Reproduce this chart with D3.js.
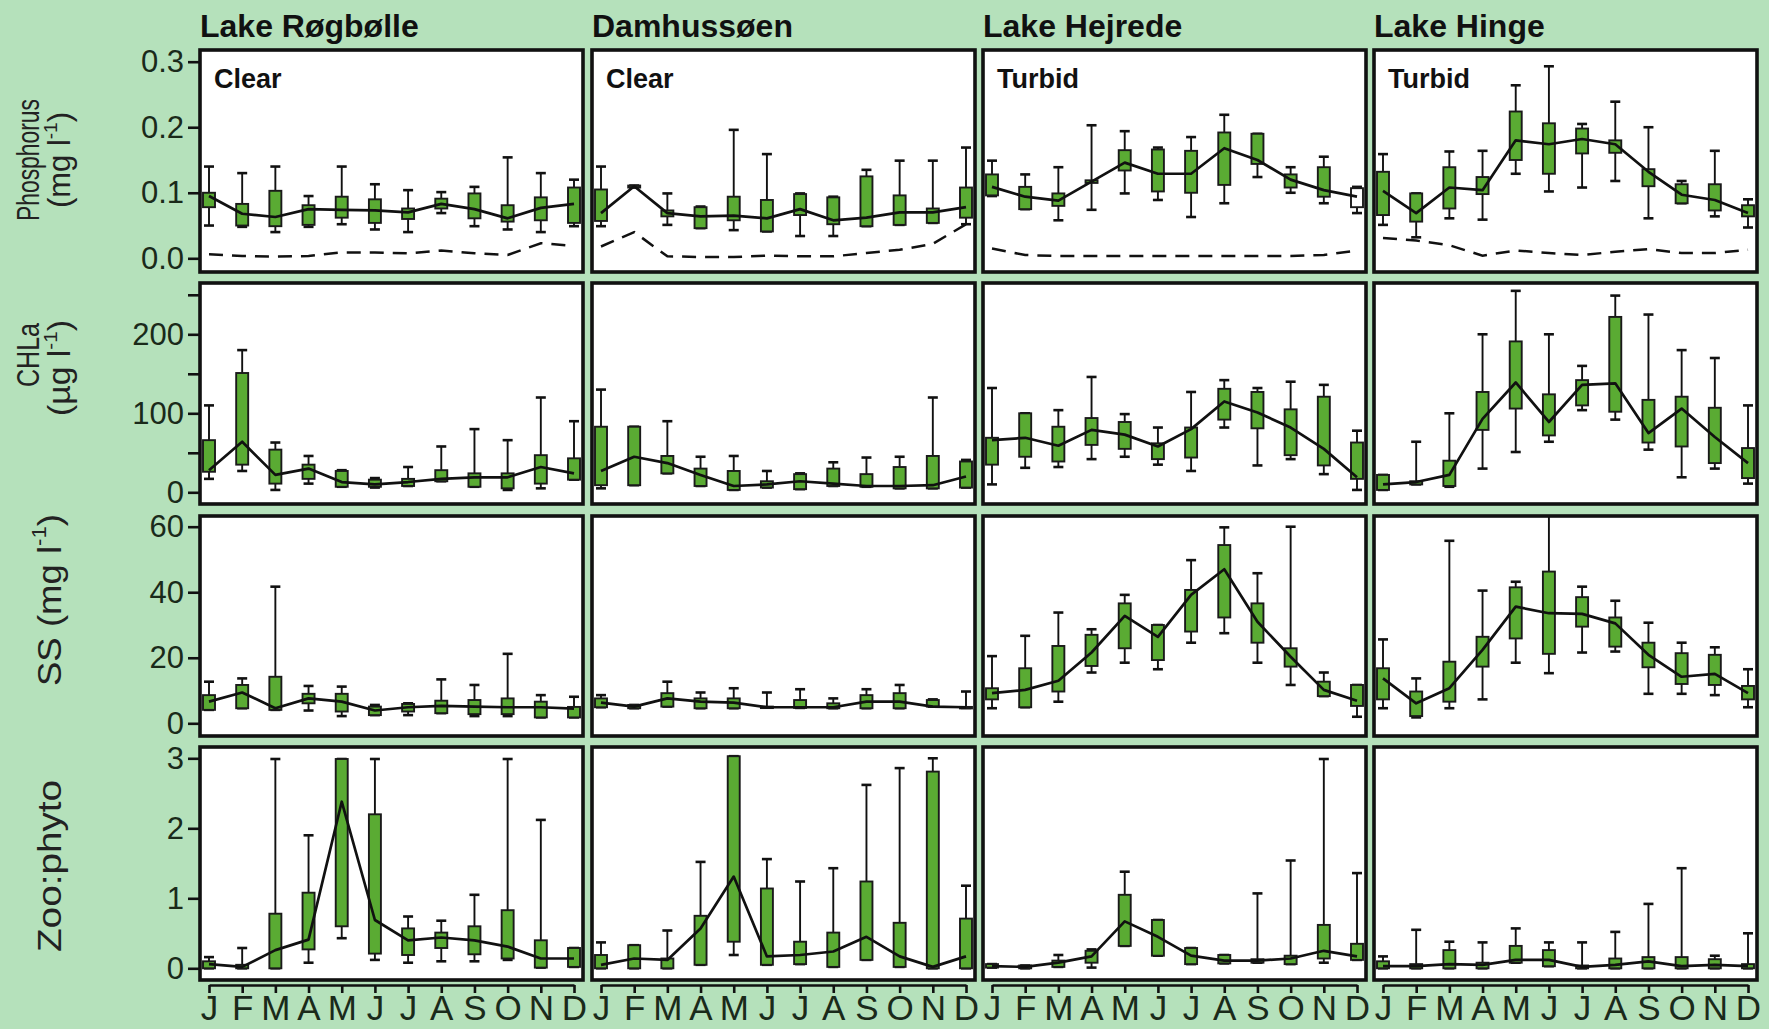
<!DOCTYPE html>
<html>
<head>
<meta charset="utf-8">
<script src="https://cdn.jsdelivr.net/npm/d3@7"></script>
<style>
  body { margin: 0; background: #b5e1bb; }
  svg { display: block; }
</style>
</head>
<body>
<svg id="chart"></svg>
<script>
// ---- data ----
const months = ["J", "F", "M", "A", "M", "J", "J", "A", "S", "O", "N", "D"];
const lakes = ["Lake Røgbølle", "Damhussøen", "Lake Hejrede", "Lake Hinge"];
const lakeState = ["Clear", "Clear", "Turbid", "Turbid"];

// each month: [low whisker, q1, median, q3, high whisker]
const phosRogbolle = [
  [0.05, 0.078, 0.095, 0.10, 0.14], [0.048, 0.05, 0.068, 0.083, 0.13], [0.04, 0.049, 0.063, 0.103, 0.14],
  [0.048, 0.051, 0.075, 0.081, 0.095], [0.052, 0.062, 0.074, 0.094, 0.14], [0.044, 0.054, 0.073, 0.09, 0.113],
  [0.04, 0.06, 0.07, 0.076, 0.104], [0.069, 0.076, 0.083, 0.091, 0.101], [0.049, 0.061, 0.075, 0.099, 0.109],
  [0.044, 0.056, 0.061, 0.081, 0.154], [0.04, 0.058, 0.077, 0.093, 0.13], [0.049, 0.054, 0.083, 0.108, 0.12]
];
const phosDamhus = [
  [0.049, 0.057, 0.069, 0.105, 0.14], [0.108, 0.108, 0.11, 0.111, 0.111], [0.051, 0.064, 0.069, 0.073, 0.099],
  [0.046, 0.046, 0.064, 0.078, 0.079], [0.043, 0.058, 0.065, 0.094, 0.196], [0.041, 0.041, 0.061, 0.089, 0.159],
  [0.034, 0.066, 0.075, 0.098, 0.099], [0.034, 0.052, 0.058, 0.093, 0.094], [0.049, 0.049, 0.062, 0.125, 0.135],
  [0.051, 0.051, 0.07, 0.096, 0.149], [0.054, 0.054, 0.07, 0.076, 0.149], [0.052, 0.062, 0.078, 0.108, 0.169]
];
const phosHejrede = [
  [0.095, 0.096, 0.109, 0.128, 0.149], [0.075, 0.075, 0.094, 0.109, 0.128], [0.058, 0.08, 0.088, 0.099, 0.139],
  [0.074, 0.115, 0.117, 0.119, 0.203], [0.099, 0.134, 0.146, 0.165, 0.194], [0.089, 0.102, 0.129, 0.166, 0.169],
  [0.063, 0.10, 0.129, 0.164, 0.185], [0.084, 0.112, 0.168, 0.192, 0.219], [0.124, 0.144, 0.15, 0.19, 0.19],
  [0.10, 0.108, 0.12, 0.128, 0.139], [0.084, 0.094, 0.104, 0.139, 0.155], [0.069, 0.078, 0.094, 0.107, 0.109]
];
const phosHinge = [
  [0.051, 0.066, 0.103, 0.132, 0.159], [0.032, 0.056, 0.069, 0.099, 0.099], [0.061, 0.076, 0.108, 0.139, 0.163],
  [0.059, 0.098, 0.104, 0.124, 0.164], [0.129, 0.15, 0.18, 0.224, 0.264], [0.102, 0.129, 0.174, 0.206, 0.293],
  [0.108, 0.16, 0.182, 0.198, 0.205], [0.118, 0.161, 0.174, 0.18, 0.239], [0.061, 0.11, 0.132, 0.136, 0.2],
  [0.084, 0.084, 0.097, 0.113, 0.118], [0.064, 0.073, 0.089, 0.113, 0.164], [0.047, 0.064, 0.069, 0.081, 0.09]
];

// dashed phosphorus reference lines
const phosLineRogbolle = [0.006, 0.0035, 0.0025, 0.0035, 0.009, 0.009, 0.0076, 0.012, 0.0076, 0.005, 0.023, 0.019];
const phosLineDamhus = [0.018, 0.04, 0.003, 0.002, 0.002, 0.004, 0.003, 0.003, 0.008, 0.013, 0.022, 0.052];
const phosLineHejrede = [0.015, 0.005, 0.0035, 0.0035, 0.0035, 0.0035, 0.0035, 0.0035, 0.0035, 0.0035, 0.005, 0.012];
const phosLineHinge = [0.031, 0.027, 0.02, 0.004, 0.012, 0.008, 0.005, 0.01, 0.014, 0.008, 0.008, 0.013];

const chlaRogbolle = [
  [17, 26, 28, 66, 110], [27, 35, 64, 151, 180], [3, 11, 22, 54, 63], [11, 17, 30, 35, 46],
  [7, 7, 13, 27, 28], [6, 7, 10, 16, 18], [8, 8, 13, 17, 32], [14, 14, 17, 28, 58],
  [7, 7, 19, 24, 80], [3, 5, 19, 24, 66], [5, 11, 32, 47, 120], [16, 16, 24, 43, 90]
];
const chlaDamhus = [
  [5, 9, 27, 83, 130], [9, 9, 45, 83, 83], [24, 24, 37, 46, 90], [8, 8, 22, 30, 45],
  [3, 3, 8, 27, 46], [6, 6, 10, 14, 27], [4, 4, 14, 23, 24], [8, 8, 11, 30, 38],
  [7, 7, 8, 23, 44], [5, 5, 8, 32, 45], [5, 5, 9, 46, 120], [6, 6, 20, 39, 41]
];
const chlaHejrede = [
  [10, 35, 66, 69, 132], [31, 45, 69, 100, 100], [32, 39, 59, 83, 104], [42, 60, 79, 94, 146],
  [45, 55, 73, 89, 99], [35, 42, 58, 62, 82], [27, 44, 80, 82, 127], [82, 92, 115, 131, 142],
  [34, 81, 101, 127, 132], [42, 47, 82, 105, 140], [23, 34, 55, 121, 136], [3, 17, 19, 63, 78]
];
const chlaHinge = [
  [3, 3, 10, 22, 22], [10, 10, 13, 14, 64], [7, 8, 22, 40, 100], [30, 79, 93, 127, 200],
  [51, 106, 139, 191, 255], [64, 72, 89, 124, 200], [104, 110, 136, 142, 160], [92, 102, 138, 222, 249],
  [54, 63, 75, 117, 225], [19, 58, 106, 121, 180], [30, 37, 70, 107, 170], [11, 18, 37, 56, 110]
];

const ssRogbolle = [
  [4.1, 4.1, 6.6, 8.6, 12.7], [4.6, 4.6, 9.4, 11.7, 13.7], [4.1, 4.1, 4.6, 14.2, 41.7], [3.9, 6.1, 7.6, 9.0, 11.4],
  [2.2, 3.6, 6.6, 9.0, 11.2], [2.5, 2.5, 3.9, 5.1, 5.6], [2.5, 3.6, 4.9, 5.9, 6.1], [3.1, 3.1, 5.3, 6.9, 13.4],
  [2.2, 2.8, 5.1, 7.1, 11.7], [2.2, 2.8, 4.9, 7.6, 21.2], [1.8, 1.8, 4.9, 6.6, 8.6], [1.8, 1.8, 4.5, 5.0, 8.1]
];
const ssDamhus = [
  [4.9, 4.9, 6.3, 7.6, 8.6], [4.6, 4.6, 5.1, 5.6, 5.6], [5.1, 5.1, 7.6, 9.2, 12.7], [4.6, 4.6, 6.6, 7.6, 9.4],
  [4.6, 4.6, 6.3, 7.6, 10.7], [4.8, 4.8, 4.9, 5.1, 9.4], [4.7, 4.7, 4.9, 7.1, 10.4], [4.6, 4.6, 4.9, 6.1, 7.6],
  [4.6, 4.6, 6.6, 8.6, 10.4], [4.6, 4.6, 6.6, 9.2, 11.7], [5.1, 5.1, 5.1, 7.1, 7.3], [4.7, 4.7, 4.9, 5.0, 9.7]
];
const ssHejrede = [
  [4.6, 7.3, 9.2, 10.7, 20.5], [4.9, 4.9, 10.2, 16.8, 26.7], [6.6, 9.7, 13.0, 23.6, 33.8], [15.5, 17.5, 21.6, 27.0, 28.7],
  [18.5, 22.9, 32.8, 36.6, 39.2], [16.5, 19.3, 26.4, 30.0, 30.0], [24.6, 28.0, 39.2, 40.7, 49.8], [27.5, 32.3, 47.0, 54.4, 59.8],
  [18.5, 24.6, 31.0, 36.6, 45.8], [11.7, 17.3, 20.3, 22.9, 60.0], [8.3, 8.3, 10.2, 12.7, 15.5], [2.0, 5.3, 6.9, 11.7, 11.7]
];
const ssHinge = [
  [4.6, 7.3, 13.7, 16.8, 25.6], [1.8, 2.2, 6.1, 9.7, 13.7], [4.6, 6.6, 10.7, 18.8, 55.7], [7.3, 17.3, 22.4, 26.4, 40.5],
  [18.5, 25.9, 35.6, 41.5, 43.2], [15.3, 21.2, 33.6, 46.3, 64], [21.6, 29.5, 33.4, 38.5, 41.7], [21.9, 23.4, 30.5, 32.3, 37.4],
  [9.0, 17.1, 20.9, 24.6, 30.7], [9.0, 12.0, 14.2, 21.4, 24.6], [8.6, 11.7, 15.1, 20.9, 23.2], [4.9, 7.3, 9.2, 11.4, 16.5]
];

const zooRogbolle = [
  [0, 0, 0.06, 0.1, 0.16], [0, 0, 0.02, 0.05, 0.29], [0, 0, 0.26, 0.78, 2.99], [0.08, 0.27, 0.41, 1.08, 1.9],
  [0.43, 0.6, 2.38, 2.99, 2.99], [0.12, 0.21, 0.69, 2.2, 2.99], [0.08, 0.19, 0.4, 0.57, 0.74], [0.1, 0.29, 0.44, 0.51, 0.68],
  [0.1, 0.2, 0.4, 0.6, 1.05], [0.12, 0.14, 0.31, 0.83, 2.99], [0.01, 0.01, 0.14, 0.4, 2.12], [0.02, 0.02, 0.14, 0.29, 0.29]
];
const zooDamhus = [
  [0, 0, 0.05, 0.19, 0.37], [0, 0, 0.14, 0.33, 0.33], [0, 0, 0.12, 0.14, 0.54], [0.05, 0.05, 0.57, 0.75, 1.52],
  [0.19, 0.38, 1.31, 3.03, 3.03], [0.05, 0.05, 0.17, 1.14, 1.56], [0.06, 0.06, 0.19, 0.38, 1.24], [0.02, 0.02, 0.24, 0.51, 1.43],
  [0.12, 0.12, 0.45, 1.24, 2.62], [0.02, 0.02, 0.17, 0.65, 2.86], [0, 0, 0.02, 2.81, 3.0], [0, 0, 0.17, 0.71, 1.18]
];
const zooHejrede = [
  [0.01, 0.01, 0.03, 0.06, 0.06], [0, 0, 0.02, 0.04, 0.04], [0.02, 0.02, 0.08, 0.11, 0.19], [0.01, 0.08, 0.17, 0.25, 0.27],
  [0.32, 0.32, 0.67, 1.05, 1.38], [0.18, 0.18, 0.45, 0.69, 0.69], [0.06, 0.06, 0.18, 0.29, 0.29], [0.07, 0.07, 0.11, 0.19, 0.19],
  [0.08, 0.08, 0.11, 0.13, 1.07], [0.06, 0.06, 0.14, 0.18, 1.54], [0.08, 0.14, 0.25, 0.62, 2.99], [0.12, 0.12, 0.17, 0.35, 1.36]
];
const zooHinge = [
  [0, 0, 0.03, 0.1, 0.17], [0, 0, 0.03, 0.06, 0.55], [0, 0, 0.06, 0.26, 0.38], [0, 0, 0.05, 0.08, 0.37],
  [0.08, 0.08, 0.12, 0.32, 0.57], [0.03, 0.03, 0.12, 0.26, 0.37], [0, 0, 0.02, 0.04, 0.37], [0, 0, 0.05, 0.14, 0.52],
  [0, 0, 0.1, 0.16, 0.92], [0, 0, 0.03, 0.16, 1.43], [0, 0, 0.05, 0.13, 0.18], [0, 0, 0.03, 0.06, 0.5]
];

// box drawn without fill (Lake Hejrede, phosphorus, December)
const unfilledBoxes = [{ row: 0, lake: 2, month: 11 }];

const phosTicks = [0, 0.1, 0.2, 0.3];
const chlaTicks = [0, 50, 100, 150, 200, 250];
const ssTicks = [0, 20, 40, 60];
const zooTicks = [0, 1, 2, 3];

// ---- layout ----
const W = 1769, H = 1029;
const bg = "#b5e1bb";
const boxGreen = "#5aab33";
const fontMain = "'Liberation Sans', Arial, sans-serif";
const fontNarrow = "'Liberation Sans Narrow', 'Arial Narrow', 'Liberation Sans', sans-serif";

const panelLeft = [200, 592, 983, 1374];
const panelW = 383;

// title lines: x centre, y centre, font size, squeezed length
const rows = [
  { data: [phosRogbolle, phosDamhus, phosHejrede, phosHinge], lines: [phosLineRogbolle, phosLineDamhus, phosLineHejrede, phosLineHinge],
    top: 50, bottom: 272, domain: [0, 0.3], range: [258.3, 61.7], ticks: phosTicks, fmt: d3.format(".1f"),
    title: [["Phosphorus"], ["(mg l", "-1", ")"]],
    titlePos: [{ x: 31, y: 160, size: 31, len: 122 }, { x: 62, y: 160, size: 31, len: 96 }] },
  { data: [chlaRogbolle, chlaDamhus, chlaHejrede, chlaHinge],
    top: 283, bottom: 504, domain: [0, 200], range: [492.3, 334.3], ticks: chlaTicks, fmt: d => d % 100 === 0 ? d : "",
    title: [["CHLa"], ["(µg l", "-1", ")"]],
    titlePos: [{ x: 31, y: 355, size: 31, len: 64 }, { x: 62, y: 368, size: 31, len: 96 }] },
  { data: [ssRogbolle, ssDamhus, ssHejrede, ssHinge],
    top: 516, bottom: 736, domain: [0, 60], range: [723.3, 526.7], ticks: ssTicks, fmt: d => d,
    title: [["SS (mg l", "-1", ")"]],
    titlePos: [{ x: 52, y: 600, size: 33, len: 172 }] },
  { data: [zooRogbolle, zooDamhus, zooHejrede, zooHinge],
    top: 747, bottom: 980, domain: [0, 3], range: [968.3, 758.3], ticks: zooTicks, fmt: d => d,
    title: [["Zoo:phyto"]],
    titlePos: [{ x: 52, y: 866, size: 33, len: 172 }] }
];

const svg = d3.select("#chart").attr("width", W).attr("height", H);
svg.append("rect").attr("width", W).attr("height", H).attr("fill", bg);
const defs = svg.append("defs");

// lake names
svg.selectAll(".lake")
  .data(lakes)
  .enter()
  .append("text")
  .attr("x", (d, i) => panelLeft[i])
  .attr("y", 37)
  .attr("font-family", fontMain)
  .attr("font-weight", "bold")
  .attr("font-size", 32)
  .attr("fill", "#111")
  .text(d => d);

const boxW = 12, capW = 10;

rows.forEach((row, r) => {
  const y = d3.scaleLinear().domain(row.domain).range(row.range);
  const ph = row.bottom - row.top;

  lakes.forEach((lake, c) => {
    const left = panelLeft[c];
    const x = d3.scalePoint().domain(d3.range(12)).range([left + 9, left + panelW - 9]);
    const stats = row.data[c];

    const clipId = "clip-" + r + "-" + c;
    defs.append("clipPath").attr("id", clipId)
      .append("rect").attr("x", left).attr("y", row.top).attr("width", panelW).attr("height", ph);

    svg.append("rect")
      .attr("x", left).attr("y", row.top).attr("width", panelW).attr("height", ph)
      .attr("fill", "white");

    const g = svg.append("g").attr("clip-path", "url(#" + clipId + ")");

    if (row.lines) {
      g.append("path")
        .datum(row.lines[c])
        .attr("fill", "none")
        .attr("stroke", "#111")
        .attr("stroke-width", 2.5)
        .attr("stroke-dasharray", "14,9")
        .attr("d", d3.line().x((d, i) => x(i)).y(d => y(d)));
    }

    const box = g.selectAll(".box")
      .data(stats)
      .enter()
      .append("g");

    box.append("line")
      .attr("x1", (d, i) => x(i)).attr("x2", (d, i) => x(i))
      .attr("y1", d => y(d[0])).attr("y2", d => y(d[4]))
      .attr("stroke", "#111").attr("stroke-width", 1.9);

    [0, 4].forEach(k => {
      box.append("line")
        .attr("x1", (d, i) => x(i) - capW / 2).attr("x2", (d, i) => x(i) + capW / 2)
        .attr("y1", d => y(d[k])).attr("y2", d => y(d[k]))
        .attr("stroke", "#111").attr("stroke-width", 2.6);
    });

    box.append("rect")
      .attr("x", (d, i) => x(i) - boxW / 2)
      .attr("width", boxW)
      .attr("y", d => y(d[3]))
      .attr("height", d => Math.max(1.5, y(d[1]) - y(d[3])))
      .attr("fill", (d, i) => unfilledBoxes.some(u => u.row === r && u.lake === c && u.month === i) ? "white" : boxGreen)
      .attr("stroke", "#1a1a1a")
      .attr("stroke-width", 1.9);

    g.append("path")
      .datum(stats)
      .attr("fill", "none")
      .attr("stroke", "#111")
      .attr("stroke-width", 2.7)
      .attr("stroke-linejoin", "round")
      .attr("d", d3.line().x((d, i) => x(i)).y(d => y(d[2])));

    svg.append("rect")
      .attr("x", left).attr("y", row.top).attr("width", panelW).attr("height", ph)
      .attr("fill", "none")
      .attr("stroke", "#111")
      .attr("stroke-width", 3.6);

    if (r === 0) {
      svg.append("text")
        .attr("x", left + 14)
        .attr("y", row.top + 38)
        .attr("font-family", fontMain)
        .attr("font-weight", "bold")
        .attr("font-size", 27)
        .attr("fill", "#111")
        .text(lakeState[c]);
    }

    if (r === rows.length - 1) {
      const xAxis = svg.append("g")
        .attr("transform", "translate(0," + (row.bottom + 5) + ")")
        .call(d3.axisBottom(x).tickFormat(i => months[i]).tickSize(8).tickSizeOuter(0).tickPadding(2));
      xAxis.selectAll("path, line").attr("stroke", "#111").attr("stroke-width", 2.6);
      xAxis.selectAll("text")
        .attr("font-family", fontNarrow)
        .attr("font-size", 35)
        .attr("fill", "#1a2a1a");
    }
  });

  // y axis on the first column
  const yAxis = svg.append("g")
    .attr("transform", "translate(" + panelLeft[0] + ",0)")
    .call(d3.axisLeft(y).tickValues(row.ticks).tickFormat(row.fmt).tickSize(12).tickSizeOuter(0).tickPadding(4));
  yAxis.select(".domain").remove();
  yAxis.selectAll("line").attr("stroke", "#111").attr("stroke-width", 2.6);
  yAxis.selectAll("text")
    .attr("font-family", fontMain)
    .attr("font-size", 31)
    .attr("fill", "#1a2a1a");

  // y axis title
  row.title.forEach((parts, li) => {
    const p = row.titlePos[li];
    const t = svg.append("text")
      .attr("transform", "translate(" + p.x + "," + p.y + ") rotate(-90)")
      .attr("text-anchor", "middle")
      .attr("dominant-baseline", "middle")
      .attr("font-family", fontNarrow)
      .attr("font-size", p.size)
      .attr("textLength", p.len)
      .attr("lengthAdjust", "spacingAndGlyphs")
      .attr("fill", "#222");
    parts.forEach((s, k) => {
      const sp = t.append("tspan").text(s);
      if (k === 1) sp.attr("baseline-shift", "super").attr("font-size", Math.round(p.size * 0.6));
    });
  });
});
</script>
</body>
</html>
